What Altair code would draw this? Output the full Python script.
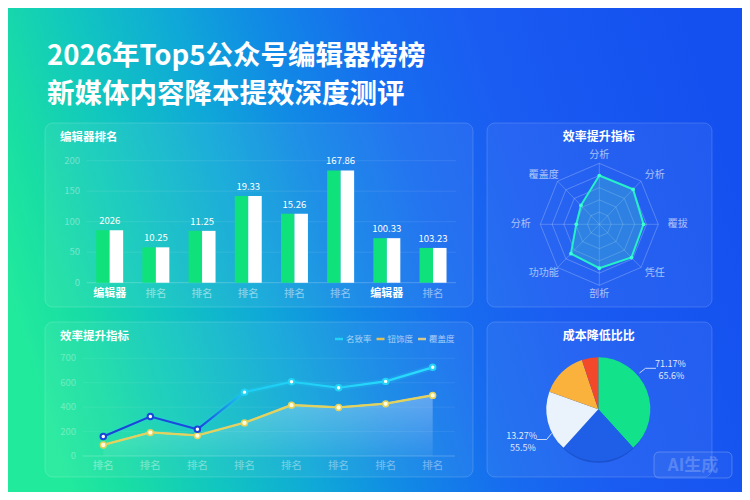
import altair as alt
import pandas as pd

M = 8                      # page margin
W, H = 734, 484            # chart size (page minus margins)
FONT = "Noto Sans CJK SC"


def X(v):
    return v - M


def Y(v):
    return v - M


# ---------------- data ----------------
title_line1 = "2026年Top5公众号编辑器榜榜"
title_line2 = "新媒体内容降本提效深度测评"

bar_title = "编辑器排名"
bar_categories = ["编辑器", "排名", "排名", "排名", "排名", "排名", "编辑器", "排名"]
bar_values = [86, 58, 85, 142, 113, 184, 73, 57]
bar_value_labels = ["2026", "10.25", "11.25", "19.33", "15.26", "167.86", "100.33", "103.23"]
bar_ticks = [0, 50, 100, 150, 200]

radar_title = "效率提升指标"
radar_axes = ["分析", "分析", "覆拔", "凭任", "剖析", "功功能", "分析", "覆盖度"]
radar_values = [0.80, 0.81, 0.75, 0.77, 0.72, 0.68, 0.39, 0.44]
radar_rings = [0.2, 0.4, 0.6, 0.8, 1.0]

line_title = "效率提升指标"
line_categories = ["排名"] * 8
line_series = ["名致率", "钮饰度", "覆盖度"]
line_rate = [159, 323, 219, 523, 608, 559, 611, 726]
line_degree = [90, 192, 167, 271, 416, 397, 427, 496]
line_cover = [93, 195, 170, 274, 419, 400, 430, 500]
line_ticks = [0, 200, 400, 600, 800]
line_tick_labels = ["0", "200", "400", "600", "700"]

pie_title = "成本降低比比"
pie_keys = ["a", "b", "c", "d", "e"]
pie_values = [38.3, 23.4, 18.8, 14.4, 5.1]
pie_right_labels = ["71.17%", "65.6%"]
pie_left_labels = ["13.27%", "55.5%"]

badge_text = "AI生成"

# ---------------- colours ----------------
WHITE = "#ffffff"
GREEN = "#10e27b"
CYAN = "#22d3f5"
DEEP = "#1846d8"
YELLOW = "#e2d35c"
KHAKI = "#d6c98a"
LEG_COLORS = [CYAN, "#e3bf5a", KHAKI]
PIE_COLORS = ["#12e38a", "#1f5fe8", "#eaf3fc", "#fbb23c", "#f4482a"]


def one():
    return pd.DataFrame({"d": [0]})


def deco_rect(x0, y0, x1, y1, **kw):
    return alt.Chart(one()).mark_rect(**kw).encode(
        x=alt.value(X(x0)), x2=alt.value(X(x1)),
        y=alt.value(Y(y0)), y2=alt.value(Y(y1)))


def deco_rule(x0, y0, x1, y1, **kw):
    return alt.Chart(one()).mark_rule(**kw).encode(
        x=alt.value(X(x0)), x2=alt.value(X(x1)),
        y=alt.value(Y(y0)), y2=alt.value(Y(y1)))


def deco_text(text, x, y, **kw):
    kw.setdefault("font", FONT)
    return alt.Chart(pd.DataFrame({"t": [text]})).mark_text(**kw).encode(
        x=alt.value(X(x)), y=alt.value(Y(y)), text="t:N")


def stops(pairs):
    return [alt.GradientStop(color=c, offset=o) for o, c in pairs]


layers = []

# ---------------- background ----------------
bg_grad = alt.LinearGradient(
    gradient="linear", x1=0, y1=0.6, x2=1, y2=0.4,
    stops=stops([(0.0, "#22ea9c"), (0.08, "#19dea4"), (0.2, "#11c6c0"),
                 (0.33, "#0fa8d8"), (0.45, "#1188e6"), (0.58, "#176cef"),
                 (0.72, "#1a5cf2"), (1.0, "#1450ef")]))
layers.append(alt.Chart(one()).mark_rect(fill=bg_grad).encode(
    x=alt.value(0), x2=alt.value(W), y=alt.value(0), y2=alt.value(H)))

card_kw = dict(fill=WHITE, fillOpacity=0.06, stroke=WHITE, strokeOpacity=0.16,
               strokeWidth=1, cornerRadius=8)
layers += [
    deco_rect(45, 123, 473, 307, **card_kw),
    deco_rect(487, 123, 712, 307, **card_kw),
    deco_rect(45, 322, 473, 477, **card_kw),
    deco_rect(487, 322, 712, 477, **card_kw),
]

# ---------------- title ----------------
layers += [
    deco_text(title_line1, 47, 57, fontSize=27.5, fontWeight="bold", color=WHITE,
              align="left", baseline="middle"),
    deco_text(title_line2, 47, 95, fontSize=27.5, fontWeight="bold", color=WHITE,
              align="left", baseline="middle"),
]

# ---------------- bar panel ----------------
bar_df = pd.DataFrame({"i": list(range(8)), "cat": bar_categories,
                       "v": bar_values, "lab": bar_value_labels})
bar_long = pd.concat([bar_df.assign(part="g"), bar_df.assign(part="w")], ignore_index=True)
bx = alt.Scale(domain=list(range(8)), range=[X(86.7), X(456)],
               paddingInner=0.416, paddingOuter=0.205)
by = alt.Scale(domain=[0, 200], range=[Y(282.7), Y(160.7)], nice=False, zero=False)
bt_df = pd.DataFrame({"t": bar_ticks})

layers.append(deco_text(bar_title, 60, 138, fontSize=11.5, fontWeight="bold",
                        color=WHITE, align="left", baseline="middle"))
layers.append(alt.Chart(bt_df).mark_rule(color=WHITE, strokeWidth=1).encode(
    y=alt.Y("t:Q", scale=by, axis=None),
    x=alt.value(X(86.7)), x2=alt.value(X(456)),
    strokeOpacity=alt.condition(alt.datum.t == 0, alt.value(0.22), alt.value(0.09))))
layers.append(alt.Chart(bt_df).mark_text(font=FONT, fontSize=9.5, color=WHITE, opacity=0.35,
                                         align="right", baseline="middle").encode(
    y=alt.Y("t:Q", scale=by, axis=None), x=alt.value(X(80)), text="t:N"))
layers.append(alt.Chart(bar_long).mark_bar().encode(
    x=alt.X("i:O", scale=bx, axis=None),
    xOffset=alt.XOffset("part:N", scale=alt.Scale(domain=["g", "w"], paddingInner=0)),
    y=alt.Y("v:Q", scale=by, axis=None),
    color=alt.Color("part:N", scale=alt.Scale(domain=["g", "w"], range=[GREEN, WHITE]),
                    legend=None)))
layers.append(alt.Chart(bar_df).mark_text(font=FONT, fontSize=9.5, color=WHITE, dy=-9,
                                          baseline="middle").encode(
    x=alt.X("i:O", scale=bx, axis=None), y=alt.Y("v:Q", scale=by, axis=None), text="lab:N"))
layers.append(alt.Chart(bar_df).transform_filter(alt.datum.cat == "编辑器").mark_text(
    font=FONT, fontSize=11, fontWeight="bold", color=WHITE, baseline="middle").encode(
    x=alt.X("i:O", scale=bx, axis=None), y=alt.value(Y(294)), text="cat:N"))
layers.append(alt.Chart(bar_df).transform_filter(alt.datum.cat != "编辑器").mark_text(
    font=FONT, fontSize=10.5, color=WHITE, opacity=0.5, baseline="middle").encode(
    x=alt.X("i:O", scale=bx, axis=None), y=alt.value(Y(294)), text="cat:N"))

# ---------------- radar panel ----------------
rcx, rcy = X(599.3), Y(224.3)
RX, RY = 59, 61
rxs = alt.Scale(domain=[-1, 1], range=[rcx - RX, rcx + RX], nice=False, zero=False)
rys = alt.Scale(domain=[-1, 1], range=[rcy + RY, rcy - RY], nice=False, zero=False)

layers.append(deco_text(radar_title, 598.7, 137, fontSize=12, fontWeight="bold",
                        color=WHITE, align="center", baseline="middle"))
ring_df = pd.DataFrame([{"r": r, "k": k} for r in radar_rings for k in range(8)])
layers.append(alt.Chart(ring_df).transform_calculate(
    ax="datum.r*sin(datum.k*PI/4)", ay="datum.r*cos(datum.k*PI/4)"
).mark_line(interpolate="linear-closed", color=WHITE, strokeOpacity=0.3,
            strokeWidth=0.8).encode(
    x=alt.X("ax:Q", scale=rxs, axis=None), y=alt.Y("ay:Q", scale=rys, axis=None),
    detail="r:N", order="k:Q"))
spoke_df = pd.DataFrame({"k": list(range(8)), "lab": radar_axes, "v": radar_values})
layers.append(alt.Chart(spoke_df).transform_calculate(
    ax="sin(datum.k*PI/4)", ay="cos(datum.k*PI/4)", z="0"
).mark_rule(color=WHITE, strokeOpacity=0.28, strokeWidth=0.8).encode(
    x=alt.X("z:Q", scale=rxs, axis=None), y=alt.Y("z:Q", scale=rys, axis=None),
    x2="ax:Q", y2="ay:Q"))
layers.append(alt.Chart(spoke_df).transform_calculate(
    ax="datum.v*sin(datum.k*PI/4)", ay="datum.v*cos(datum.k*PI/4)"
).mark_line(interpolate="linear-closed", fill="#3fb8cc", fillOpacity=0.38,
            stroke="#26f0c8", strokeWidth=2).encode(
    x=alt.X("ax:Q", scale=rxs, axis=None), y=alt.Y("ay:Q", scale=rys, axis=None),
    order="k:Q"))
layers.append(alt.Chart(spoke_df).transform_calculate(
    ax="datum.v*sin(datum.k*PI/4)", ay="datum.v*cos(datum.k*PI/4)"
).mark_circle(size=14, color="#3dffd4", opacity=1).encode(
    x=alt.X("ax:Q", scale=rxs, axis=None), y=alt.Y("ay:Q", scale=rys, axis=None)))
layers.append(alt.Chart(spoke_df).transform_calculate(
    ax="1.33*sin(datum.k*PI/4)", ay="1.14*cos(datum.k*PI/4)"
).mark_text(font=FONT, fontSize=10, color=WHITE, opacity=0.6, baseline="middle").encode(
    x=alt.X("ax:Q", scale=rxs, axis=None), y=alt.Y("ay:Q", scale=rys, axis=None),
    text="lab:N"))

# ---------------- line panel ----------------
lxs = alt.Scale(domain=[0, 7], range=[X(103.3), X(432.7)], nice=False, zero=False)
lys = alt.Scale(domain=[0, 800], range=[Y(456), Y(358.3)], nice=False, zero=False)
line_df = pd.DataFrame({"i": list(range(8)), "cat": line_categories, "rate": line_rate,
                        "degree": line_degree, "cover": line_cover})
lt_df = pd.DataFrame({"t": line_ticks, "lab": line_tick_labels})

layers.append(deco_text(line_title, 60, 337, fontSize=11.5, fontWeight="bold",
                        color=WHITE, align="left", baseline="middle"))
layers.append(alt.Chart(lt_df).mark_rule(color=WHITE, strokeWidth=1).encode(
    y=alt.Y("t:Q", scale=lys, axis=None),
    x=alt.value(X(82.7)), x2=alt.value(X(455)),
    strokeOpacity=alt.condition(alt.datum.t == 0, alt.value(0.22), alt.value(0.07))))
layers.append(alt.Chart(lt_df).mark_text(font=FONT, fontSize=9.5, color=WHITE, opacity=0.3,
                                         align="right", baseline="middle").encode(
    y=alt.Y("t:Q", scale=lys, axis=None), x=alt.value(X(76)), text="lab:N"))
layers.append(alt.Chart(line_df).mark_text(font=FONT, fontSize=10.5, color=WHITE, opacity=0.4,
                                           baseline="middle").encode(
    x=alt.X("i:Q", scale=lxs, axis=None), y=alt.value(Y(466)), text="cat:N"))

area_grad = alt.LinearGradient(
    gradient="linear", x1=0, y1=0, x2=0, y2=1,
    stops=stops([(0, "rgba(255,255,255,0.30)"), (1, "rgba(255,255,255,0.06)")]))
layers.append(alt.Chart(line_df).mark_area(fill=area_grad).encode(
    x=alt.X("i:Q", scale=lxs, axis=None), y=alt.Y("cover:Q", scale=lys, axis=None),
    y2=alt.datum(0)))
layers.append(alt.Chart(line_df).mark_line(color=KHAKI, strokeWidth=2).encode(
    x=alt.X("i:Q", scale=lxs, axis=None), y=alt.Y("cover:Q", scale=lys, axis=None)))
layers.append(alt.Chart(line_df).mark_line(color=YELLOW, strokeWidth=2).encode(
    x=alt.X("i:Q", scale=lxs, axis=None), y=alt.Y("degree:Q", scale=lys, axis=None)))
rate_grad = alt.LinearGradient(
    gradient="linear", x1=0, y1=0, x2=1, y2=0,
    stops=stops([(0, "#1a44d6"), (0.3, "#1a4ee0"), (0.43, "#1ccdf5"), (1, "#2adcff")]))
layers.append(alt.Chart(line_df).mark_line(color=CYAN, strokeWidth=6, opacity=0.18).encode(
    x=alt.X("i:Q", scale=lxs, axis=None), y=alt.Y("rate:Q", scale=lys, axis=None)))
layers.append(alt.Chart(line_df).mark_line(stroke=rate_grad, strokeWidth=2.2).encode(
    x=alt.X("i:Q", scale=lxs, axis=None), y=alt.Y("rate:Q", scale=lys, axis=None)))
layers.append(alt.Chart(line_df).mark_circle(fill="#fffbe0", stroke=YELLOW, size=34,
                                             strokeWidth=1.5, opacity=1).encode(
    x=alt.X("i:Q", scale=lxs, axis=None), y=alt.Y("degree:Q", scale=lys, axis=None)))
layers.append(alt.Chart(line_df).mark_circle(fill=WHITE, size=30, strokeWidth=2,
                                             opacity=1).encode(
    x=alt.X("i:Q", scale=lxs, axis=None), y=alt.Y("rate:Q", scale=lys, axis=None),
    stroke=alt.condition(alt.datum.i < 3, alt.value(DEEP), alt.value(CYAN))))

legs = alt.Scale(type="point", domain=line_series, range=[X(339), X(422)], padding=0)
leg_df = pd.DataFrame({"s": line_series})
layers.append(alt.Chart(leg_df).mark_point(shape="stroke", size=64, strokeWidth=2.5,
                                           opacity=1).encode(
    x=alt.X("s:N", scale=legs, axis=None), y=alt.value(Y(339)),
    color=alt.Color("s:N", scale=alt.Scale(domain=line_series, range=LEG_COLORS),
                    legend=None)))
layers.append(alt.Chart(leg_df).mark_text(font=FONT, fontSize=8.5, color=WHITE, opacity=0.6,
                                          align="left", dx=7, baseline="middle").encode(
    x=alt.X("s:N", scale=legs, axis=None), y=alt.value(Y(339)), text="s:N"))

# ---------------- pie panel ----------------
pcx, pcy = X(598.3), Y(409.3)
layers.append(deco_text(pie_title, 598.7, 336, fontSize=12, fontWeight="bold",
                        color=WHITE, align="center", baseline="middle"))
layers.append(alt.Chart(one()).mark_circle(size=10200, color="#0a2a8c", opacity=0.35).encode(
    x=alt.value(pcx), y=alt.value(pcy + 3)))
pie_df = pd.DataFrame({"k": pie_keys, "v": pie_values, "o": list(range(5))})
layers.append(alt.Chart(pie_df).mark_arc(outerRadius=52).encode(
    theta=alt.Theta("v:Q", stack=True),
    color=alt.Color("k:N", scale=alt.Scale(domain=pie_keys, range=PIE_COLORS), legend=None),
    order=alt.Order("o:Q"),
    x=alt.value(pcx), y=alt.value(pcy)))

lead_kw = dict(color=WHITE, strokeOpacity=0.75, strokeWidth=1)
layers += [
    deco_rule(639.5, 373, 645.5, 368.3, **lead_kw),
    deco_rule(645.5, 368.3, 656, 368.3, **lead_kw),
    deco_rule(551.7, 433.3, 546.7, 439.5, **lead_kw),
    deco_rule(546.7, 439.5, 536.5, 439.5, **lead_kw),
    deco_text(pie_right_labels[0], 670.5, 363.5, fontSize=9, color=WHITE, opacity=0.85,
              align="center", baseline="middle"),
    deco_text(pie_right_labels[1], 671.5, 375.5, fontSize=9, color=WHITE, opacity=0.85,
              align="center", baseline="middle"),
    deco_text(pie_left_labels[0], 521.7, 436, fontSize=9, color=WHITE, opacity=0.85,
              align="center", baseline="middle"),
    deco_text(pie_left_labels[1], 523, 448, fontSize=9, color=WHITE, opacity=0.85,
              align="center", baseline="middle"),
]

# ---------------- badge ----------------
layers += [
    deco_rect(654, 452, 732, 478, fill=WHITE, fillOpacity=0.04, stroke=WHITE,
              strokeOpacity=0.22, strokeWidth=1, cornerRadius=5),
    deco_text(badge_text, 693, 465.5, fontSize=17, fontWeight="bold", color=WHITE,
              opacity=0.2, align="center", baseline="middle"),
]

chart = alt.layer(*layers).resolve_scale(
    x="independent", y="independent", color="independent", stroke="independent",
    strokeOpacity="independent", theta="independent"
).properties(
    width=W, height=H, padding=0, background="#1a7fe8",
    autosize=alt.AutoSizeParams(type="none")
).configure_view(strokeWidth=0)

chart.save("out.html", embed_options={"renderer": "svg", "actions": False})
